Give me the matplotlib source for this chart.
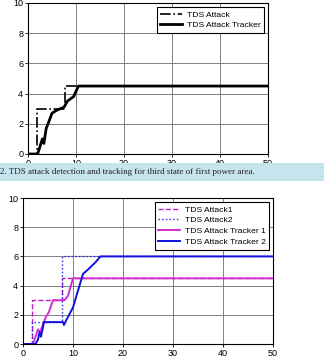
import matplotlib
matplotlib.use("Agg")
import matplotlib.pyplot as plt

# --- data ---
t_atk = [0, 1.8, 1.8, 7.8, 7.8, 50]
atk = [0, 0, 3, 3, 4.5, 4.5]
t_trk = [0, 2.0, 2.5, 3.0, 3.3, 3.8, 4.3, 5.0, 6.0, 7.5, 8.2, 9.5, 10.5, 11, 50]
trk = [0, 0, 0.5, 1.0, 0.7, 1.7, 2.1, 2.7, 2.9, 3.1, 3.5, 3.8, 4.5, 4.5, 4.5]

t_a1 = [0, 1.7, 1.7, 7.8, 7.8, 50]
a1 = [0, 0, 3, 3, 4.5, 4.5]
t_a2 = [0, 1.8, 1.8, 7.8, 7.8, 50]
a2 = [0, 0, 1.5, 1.5, 6, 6]
t_tr1 = [0, 2.0, 2.6, 3.0, 3.4, 4.5, 5.2, 6.0, 8.3, 9.0, 10.0, 50]
tr1 = [0, 0, 0.6, 1.0, 0.8, 1.8, 2.2, 3.0, 3.0, 3.3, 4.5, 4.5]
t_tr2 = [0, 2.5, 3.0, 3.3, 3.6, 4.2, 8.0, 8.2, 8.6, 10.0, 10.6, 12.0, 13.0, 14.5, 15.5, 50]
tr2 = [0, 0, 0.3, 0.8, 0.5, 1.5, 1.5, 1.3, 1.6, 2.5, 3.2, 4.8, 5.1, 5.6, 6.0, 6.0]

CAPTION = "2. TDS attack detection and tracking for third state of first power area."

plt.rcParams["font.family"] = ["Liberation Sans", "DejaVu Sans"]
plt.rcParams["font.size"] = 6.5

fig = plt.figure(figsize=(3.24, 3.61), dpi=100)
W, H = 324, 361


def make_ax(x0, x1, ytop, ybot):
    ax = fig.add_axes([x0 / W, 1 - ybot / H, (x1 - x0) / W, (ybot - ytop) / H])
    ax.set_xlim(0, 50)
    ax.set_ylim(0, 10)
    ax.set_xticks([0, 10, 20, 30, 40, 50])
    ax.set_yticks([0, 2, 4, 6, 8, 10])
    ax.grid(True, color="#808080", linewidth=0.7)
    ax.tick_params(length=2, width=0.6, pad=1.5)
    for s in ax.spines.values():
        s.set_linewidth(0.8)
    return ax


def add_legend(ax):
    leg = ax.legend(loc="upper right", fancybox=False, edgecolor="black", framealpha=1,
                    handlelength=2.6, handletextpad=0.5, borderaxespad=0.5,
                    labelspacing=0.35, fontsize=6.1)
    leg.get_frame().set_linewidth(0.8)


ax1 = make_ax(28, 268, 3, 154)
ax1.plot(t_atk, atk, color="black", linestyle="-.", linewidth=1.2, label="TDS Attack")
ax1.plot(t_trk, trk, color="black", linewidth=2.0, label="TDS Attack Tracker")
add_legend(ax1)

# caption band
fig.patches.append(plt.Rectangle((0, 1 - 181 / H), 1, 18 / H, transform=fig.transFigure,
                                 facecolor="#c6e4ee", edgecolor="none"))
fig.text(0.0, 1 - 172 / H, CAPTION, family="Liberation Serif", fontsize=6.5,
         va="center", ha="left", color="#222222")

ax2 = make_ax(23, 273, 198, 344)
ax2.plot(t_a1, a1, color="#c020c0", linestyle="--", linewidth=1.0, label="TDS Attack1")
ax2.plot(t_a2, a2, color="#2020e0", linestyle=":", linewidth=1.0, label="TDS Attack2")
ax2.plot(t_tr1, tr1, color="#d030d0", linewidth=1.4, label="TDS Attack Tracker 1")
ax2.plot(t_tr2, tr2, color="#1010e0", linewidth=1.4, label="TDS Attack Tracker 2")
add_legend(ax2)

fig.savefig("out.png", dpi=100)
